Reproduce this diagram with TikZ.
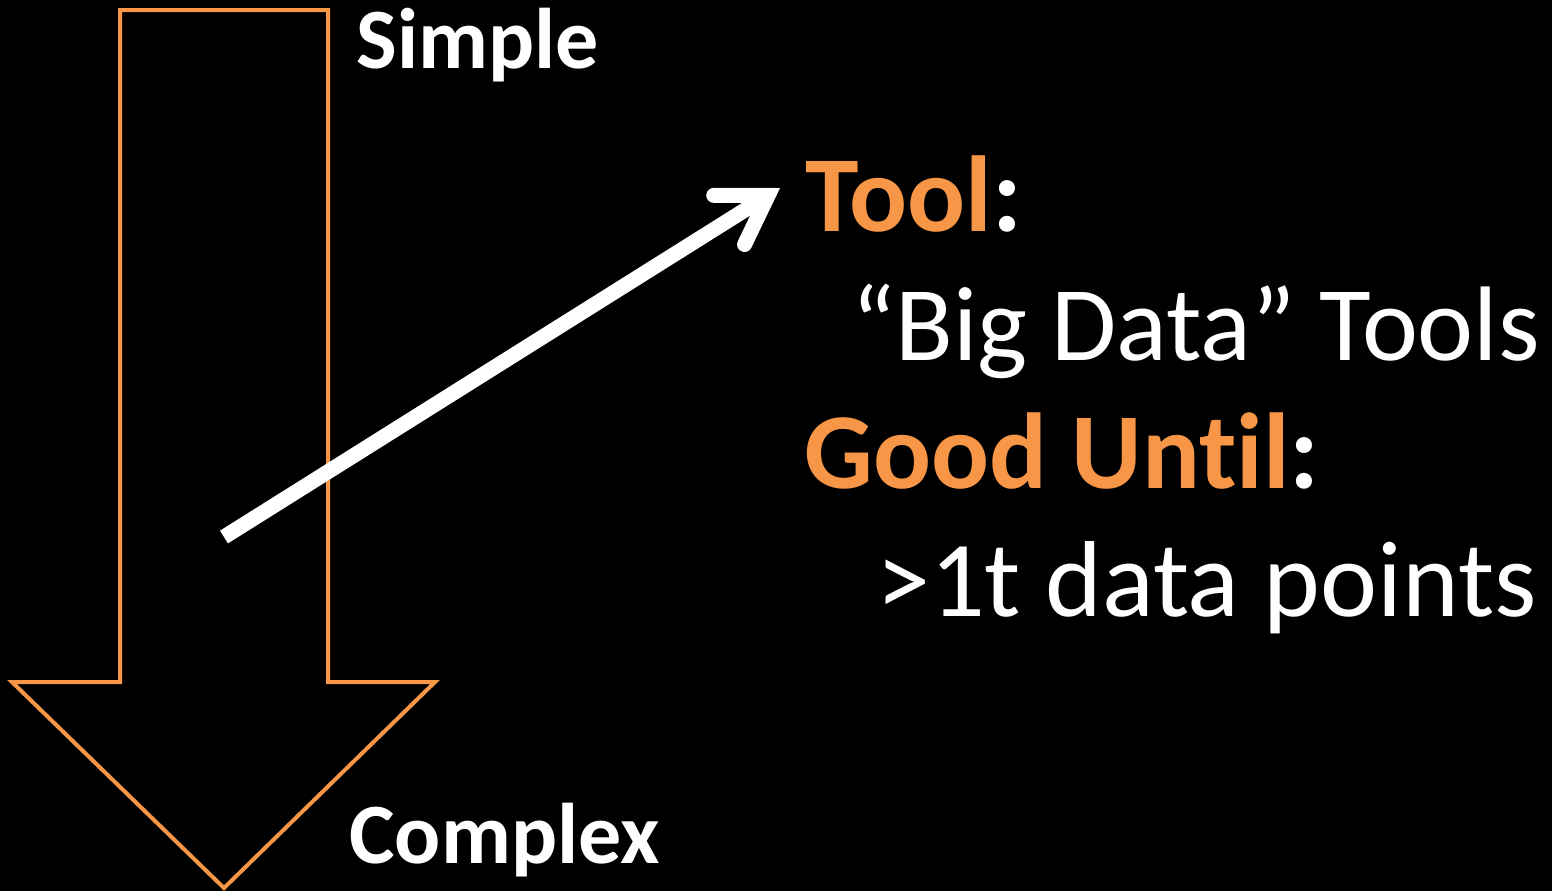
\documentclass[tikz,border=0pt]{standalone}
\usepackage{fontspec}
\setmainfont{Carlito}[Ligatures={NoCommon}]
\usetikzlibrary{arrows.meta}
\definecolor{slideorange}{HTML}{F79646}
\tikzstyle{txt}=[anchor=base west, inner sep=0pt, text=white]
\tikzstyle{small}=[txt, font=\fontsize{43}{52}\selectfont\bfseries]
\tikzstyle{big}=[txt, font=\fontsize{54}{65}\selectfont]
\tikzstyle{bigbold}=[txt, font=\fontsize{54}{65}\selectfont\bfseries]

\begin{document}
\begin{tikzpicture}[x=0.5pt,y=-0.5pt]
    \fill[black] (0,0) rectangle (1552,891);
    \useasboundingbox (0,0) rectangle (1552,891);
    % big down arrow
    \draw[slideorange, line width=2pt, miter limit=10]
      (120,10) -- (328,10) -- (328,682) -- (435,682) -- (224,888)
      -- (12,682) -- (120,682) -- cycle;
    \node[small] (simple) at (356,68) {Simple};
    \node[small] (complex) at (349,863) {Complex};
    % right hand text
    \node[bigbold] (tool) at (805,231) {\textcolor{slideorange}{Tool}:};
    \node[big, font=\fontsize{53}{64}\selectfont] (bigdata) at (851,360) {“Big Data” Tools};
    \node[bigbold] (until) at (804,488) {\textcolor{slideorange}{Good Until}:};
    \node[big] (points) at (876,616) {>1t data points};
    % white pointer
    \coordinate (from) at (224,537);
    \coordinate (to) at (780,188);
    \draw[white, line width=7.5pt,
      -{Straight Barb[length=23pt,width=29pt,line cap=round]}] (from) -- (to);
\end{tikzpicture}
\end{document}
